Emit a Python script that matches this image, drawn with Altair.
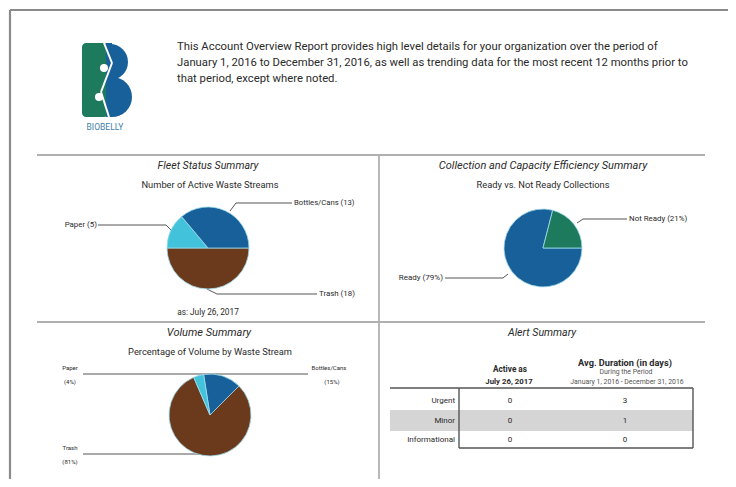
import math
import altair as alt
import pandas as pd

# ---------------- data ----------------
fleet_cats = ["Trash", "Paper", "Bottles/Cans"]
fleet_counts = [18, 5, 13]

ready_cats = ["Ready", "Not Ready"]
ready_pct = [79, 21]

volume_cats = ["Bottles/Cans", "Trash", "Paper"]
volume_pct = [15, 81, 4]

alert_levels = ["Urgent", "Minor", "Informational"]
alert_active = [0, 0, 0]
alert_avg_days = [3, 1, 0]

intro_lines = [
    "This Account Overview Report provides high level details for your organization over the period of",
    "January 1, 2016 to December 31, 2016, as well as trending data for the most recent 12 months prior to",
    "that period, except where noted.",
]

# ---------------- styling ----------------
BLUE = "#17609a"
CYAN = "#42c3db"
BROWN = "#6b3a1c"
GREEN = "#1d7a5c"
FONT = "Roboto"
TXT = "#2a2a2a"
O = 8  # page margin offset

color_scale = alt.Scale(
    domain=["Bottles/Cans", "Paper", "Trash", "Ready", "Not Ready"],
    range=[BLUE, CYAN, BROWN, BLUE, GREEN],
)

layers = []


def one():
    return pd.DataFrame({"a": [0]})


def seg(x1, y1, x2, y2, color="#555", w=1.0):
    layers.append(
        alt.Chart(one()).mark_rule(color=color, strokeWidth=w).encode(
            x=alt.value(x1 - O), y=alt.value(y1 - O),
            x2=alt.value(x2 - O), y2=alt.value(y2 - O))
    )


def box(x1, y1, x2, y2, color, radius=0):
    layers.append(
        alt.Chart(one()).mark_rect(color=color, cornerRadius=radius).encode(
            x=alt.value(x1 - O), y=alt.value(y1 - O),
            x2=alt.value(x2 - O), y2=alt.value(y2 - O))
    )


def txt(s, x, y, size=8, weight="normal", style="normal", align="center", color=TXT):
    layers.append(
        alt.Chart(pd.DataFrame({"t": [s]})).mark_text(
            font=FONT, fontSize=size, fontWeight=weight, fontStyle=style,
            align=align, baseline="middle", color=color).encode(
            text="t:N", x=alt.value(x - O), y=alt.value(y - O))
    )


def pie(cats, vals, cx, cy, r, start_deg):
    df = pd.DataFrame({"cat": cats, "v": vals, "k": list(range(len(cats)))})
    a0 = math.radians(start_deg)
    layers.append(
        alt.Chart(df).mark_arc(radius=r, stroke="#9fdcec", strokeWidth=0.8).encode(
            theta=alt.Theta("v:Q", stack=True, scale=alt.Scale(range=[a0, a0 + 2 * math.pi])),
            color=alt.Color("cat:N", scale=color_scale, legend=None),
            order=alt.Order("k:Q"),
            x=alt.value(cx - O), y=alt.value(cy - O))
    )


def logo_arc(cx, cy, r, t0, t1, color):
    layers.append(
        alt.Chart(one()).mark_arc(radius=r, theta=t0, theta2=t1, color=color).encode(
            x=alt.value(cx - O), y=alt.value(cy - O))
    )


# ---------------- page frame ----------------
seg(10, 10, 740, 10, "#8a8a8a", 2.2)
seg(10, 10, 10, 490, "#8a8a8a", 2.2)

# ---------------- logo ----------------
box(82, 43, 108, 117, GREEN, 4)
box(106, 43, 112, 117, BLUE)
logo_arc(110, 62, 18, 0, math.pi, BLUE)
logo_arc(112, 97, 20, 0, math.pi, BLUE)
seg(104, 43, 112, 63, "white", 2)
seg(112, 63, 101, 92, "white", 2)
seg(101, 92, 109, 117, "white", 2)
logo_arc(104, 68, 4, 0, 2 * math.pi, "white")
logo_arc(99, 97, 4, 0, 2 * math.pi, "white")
txt("BIOBELLY", 105, 127, size=8.5, color="#3f7fa8")

# ---------------- intro paragraph ----------------
for i, line in enumerate(intro_lines):
    txt(line, 177, 47 + 16 * i, size=11.3, align="left")

# ---------------- section dividers ----------------
seg(37, 155, 705, 155, "#b0b0b0", 1.8)
seg(37, 322, 705, 322, "#b0b0b0", 1.8)
seg(379, 155, 379, 480, "#b0b0b0", 1.8)

# ---------------- Fleet Status Summary ----------------
txt("Fleet Status Summary", 208, 166, size=10.6, style="italic")
txt("Number of Active Waste Streams", 210, 185, size=9.3)
seg(230, 211, 236, 203)
seg(236, 203, 292, 203)
txt("Bottles/Cans (13)", 294, 203, size=7.7, align="left")
seg(98, 225, 166, 225)
seg(166, 225, 172, 231)
txt("Paper (5)", 97, 225, size=7.9, align="right")
seg(207, 289, 217, 294)
seg(217, 294, 317, 294)
txt("Trash (18)", 319, 294, size=7.9, align="left")
pie(fleet_cats, fleet_counts, 208, 248, 41, 90)
txt("as: July 26, 2017", 208, 313, size=8.3)

# ---------------- Collection and Capacity Efficiency ----------------
txt("Collection and Capacity Efficiency Summary", 543, 166, size=11, style="italic")
txt("Ready vs. Not Ready Collections", 543, 185, size=9.3)
seg(577, 223, 583, 219)
seg(583, 219, 627, 219)
txt("Not Ready (21%)", 629, 219, size=7.9, align="left")
seg(445, 278, 503, 278)
seg(503, 278, 508, 274)
txt("Ready (79%)", 443, 278, size=8, align="right")
pie(ready_cats, ready_pct, 543, 248, 39, 90)

# ---------------- Volume Summary ----------------
txt("Volume Summary", 209, 333, size=11, style="italic")
txt("Percentage of Volume by Waste Stream", 210, 352, size=9.3)
seg(83, 374, 308, 374)
seg(83, 454, 200, 454)
txt("Paper", 70, 368, size=6)
txt("(4%)", 70, 382, size=6)
txt("Bottles/Cans", 329, 368, size=6)
txt("(15%)", 332, 382, size=6)
txt("Trash", 70, 448, size=6)
txt("(81%)", 70, 462, size=6)
pie(volume_cats, volume_pct, 210, 415, 41, 351)

# ---------------- Alert Summary ----------------
txt("Alert Summary", 542, 333, size=10.6, style="italic")
box(390, 410, 693, 431, "#d5d5d5")
txt("Active as", 510, 370, size=8.2, weight="bold")
txt("July 26, 2017", 509, 382, size=7.8, weight="bold")
txt("Avg. Duration (in days)", 625, 363, size=9.2, weight="bold")
txt("During the Period", 626, 372, size=6.9, color="#555")
txt("January 1, 2016 - December 31, 2016", 627, 382, size=6.9, color="#555")
seg(390, 388, 693, 388, "#555", 1.4)
seg(459, 388, 459, 448, "#555", 1.4)
seg(693, 388, 693, 448, "#555", 1.4)
seg(459, 448, 693, 448, "#555", 1.4)

row_scale = alt.Scale(domain=alert_levels, range=[401 - O, 440 - O], padding=0)
col_scale = alt.Scale(domain=["Active", "Avg"], range=[510 - O, 625 - O], padding=0)

alert_df = pd.DataFrame({
    "level": alert_levels * 2,
    "col": ["Active"] * len(alert_levels) + ["Avg"] * len(alert_levels),
    "val": alert_active + alert_avg_days,
})
layers.append(
    alt.Chart(alert_df).mark_text(font=FONT, fontSize=8, color=TXT).encode(
        x=alt.X("col:N", scale=col_scale, axis=None),
        y=alt.Y("level:N", scale=row_scale, axis=None),
        text="val:Q")
)
layers.append(
    alt.Chart(pd.DataFrame({"level": alert_levels})).mark_text(
        font=FONT, fontSize=8, color=TXT, align="right").encode(
        y=alt.Y("level:N", scale=row_scale, axis=None),
        x=alt.value(455 - O),
        text="level:N")
)

chart = (
    alt.layer(*layers)
    .resolve_scale(theta="independent")
    .properties(width=720, height=471, padding=0,
                autosize=alt.AutoSizeParams(type="none"), background="white")
    .configure_view(stroke=None)
)

chart.save("out.html", embed_options={"renderer": "svg", "actions": False})
